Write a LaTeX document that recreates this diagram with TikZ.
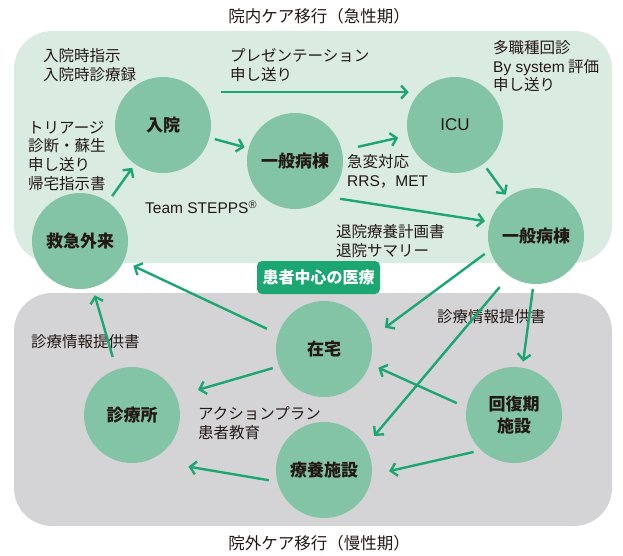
\documentclass[tikz,border=0pt]{standalone}
\usepackage{fontspec}
\setmainfont{Noto Sans CJK JP}
\newfontfamily\latinfont{Liberation Sans}
\usepackage{tikz}
\usepackage{xcolor}
\usetikzlibrary{positioning, arrows.meta}
\definecolor{cAcute}  {HTML}{DAEBE1}
\definecolor{cChronic}{HTML}{D4D4D6}
\definecolor{cCircle} {HTML}{82C4A5}
\definecolor{cArrow}  {HTML}{1BA672}
\definecolor{cInk}    {HTML}{231815}

\begin{document}
\begin{tikzpicture}[x=1pt, y=-1pt,
    zone/.style={rounded corners=38pt},
    site/.style={circle, fill=cCircle, minimum size=96pt, inner sep=0pt,
      text=cInk, align=center, font=\bfseries\fontsize{17}{22}\selectfont},
    badge/.style={fill=cArrow, rounded corners=5pt, minimum width=123pt,
      minimum height=33pt, inner sep=0pt, text=white,
      font=\bfseries\fontsize{16}{20}\selectfont},
    note/.style={inner sep=0pt, text=cInk, align=left,
      font=\fontsize{15.5}{18.8}\selectfont},
    title/.style={text=cInk, font=\fontsize{16.5}{20}\selectfont},
    flow/.style={cArrow, line width=2.4pt, -{Straight Barb[length=6pt, width=13pt]}},
  ]
  \useasboundingbox (0,0) rectangle (623,555);
  \fill[cAcute, zone] (14,31) rectangle (612,263);
  \fill[cChronic, zone] (14,293) rectangle (612,526);

  \node[title] (ttlAcute) at (319,16) {院内ケア移行（急性期）};
  \node[title] (ttlChronic) at (319,543) {院外ケア移行（慢性期）};

  \node[site] (adm) at (163,125) {入院};
  \node[site] (ward) at (295,161) {一般病棟};
  \node[site] (icu) at (455,125) {\latinfont\mdseries ICU};
  \node[site] (ward2) at (536,236) {一般病棟};
  \node[site] (er) at (80,241) {救急外来};
  \node[site] (home) at (324,349) {在宅};
  \node[site] (clinic) at (132,415) {診療所};
  \node[site] (care) at (324,470) {療養施設};
  \node[site] (rehab) at (514,415) {回復期\\施設};

  \node[badge] (core) at (318.5,277.5) {患者中心の医療};

  \node[note, anchor=north west] (nAdmit) at (43,48.5) {入院時指示\\入院時診療録};
  \node[note, anchor=north west] (nPres) at (230,48.5) {プレゼンテーション\\申し送り};
  \node[note, anchor=north west] (nRound) at (493,40) {多職種回診\\{\latinfont By system} 評価\\申し送り};
  \node[note, anchor=north west] (nTriage) at (28,120.5) {トリアージ\\診断・蘇生\\申し送り\\帰宅指示書};
  \node[note, anchor=west, font=\latinfont\fontsize{15.5}{19}\selectfont] (nTeam) at (145,207) {Team STEPPS\textsuperscript{®}};
  \node[note, anchor=north west] (nRapid) at (347,154.5) {急変対応\\{\latinfont RRS}，{\latinfont MET}};
  \node[note, anchor=north west] (nDisch) at (336,224.5) {退院療養計画書\\退院サマリー};
  \node[note, anchor=west] (nRefer) at (31,342) {診療情報提供書};
  \node[note, anchor=west] (nReferB) at (437,317) {診療情報提供書};
  \node[note, anchor=north west] (nAction) at (198,406.5) {アクションプラン\\患者教育};

  \draw[flow, shorten <=7pt, shorten >=4.5pt] (er) -- (adm);
  \draw[flow, shorten <=5.5pt, shorten >=4pt] (adm) -- (ward);
  \draw[flow, shorten <=23pt, shorten >=11pt] (adm.43) -- (icu.137);
  \draw[flow, shorten <=16.5pt, shorten >=10pt] (ward) -- (icu);
  \draw[flow, shorten <=5.5pt, shorten >=3pt] (icu) -- (ward2);
  \draw[flow, shorten <=13pt, shorten >=5pt] (ward.-48) -- (ward2.163);
  \draw[flow, shorten <=6.4pt, shorten >=17.5pt] (ward2.197) -- (home.13);
  \draw[flow, shorten <=14.5pt, shorten >=13pt] (ward2.236) -- (care.30);
  \draw[flow, shorten <=5pt, shorten >=6pt] (ward2.267) -- (rehab.80);
  \draw[flow, shorten <=10.5pt, shorten >=9.3pt] (rehab.171) -- (home.342);
  \draw[flow, shorten <=7.7pt, shorten >=17.6pt] (rehab.227) -- (care.354);
  \draw[flow, shorten <=8.5pt, shorten >=39.7pt] (care.194) -- (clinic.291);
  \draw[flow, shorten <=6.5pt, shorten >=22.6pt] (home.201) -- (clinic.23);
  \draw[flow, shorten <=12.5pt, shorten >=10.6pt] (home.162) -- (er.335);
  \draw[flow, shorten <=13pt, shorten >=8pt] (clinic.109) -- (er.285);
\end{tikzpicture}
\end{document}
